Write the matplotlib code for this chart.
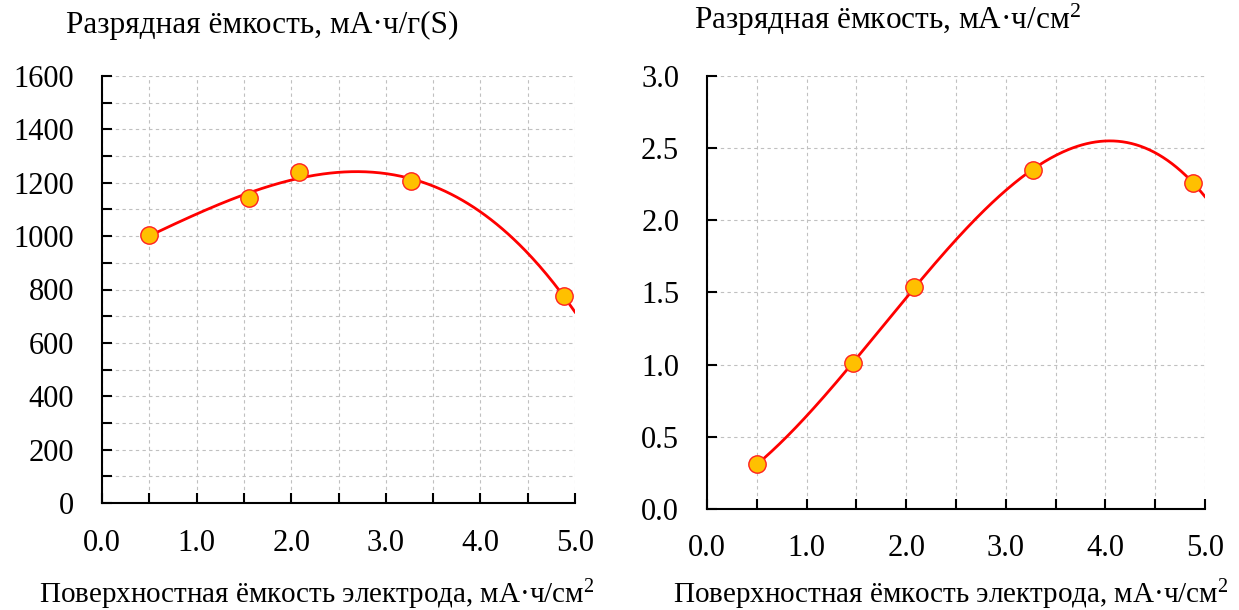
import numpy as np
import matplotlib
matplotlib.use("Agg")
import matplotlib.pyplot as plt
from matplotlib.ticker import MultipleLocator, FormatStrFormatter

plt.rcParams['font.family'] = ['Liberation Serif', 'DejaVu Serif']
plt.rcParams['mathtext.fontset'] = 'custom'
plt.rcParams['mathtext.rm'] = 'Liberation Serif'
plt.rcParams['mathtext.it'] = 'Liberation Serif:italic'
plt.rcParams['mathtext.bf'] = 'Liberation Serif:bold'

# Data
x_left = [0.5, 1.55, 2.08, 3.27, 4.88]
y_left = [1004, 1142, 1239, 1208, 776]
x_right = [0.5, 1.47, 2.08, 3.27, 4.88]
y_right = [0.31, 1.01, 1.54, 2.35, 2.26]

title_left = "Разрядная ёмкость, мА·ч/г(S)"
title_right = "Разрядная ёмкость, мА·ч/см$^\\mathrm{2}$"
xlabel = "Поверхностная ёмкость электрода, мА·ч/см$^\\mathrm{2}$"

fig = plt.figure(figsize=(12.39, 6.10), dpi=100)
W, H = 1239, 610
axL = fig.add_axes([102 / W, 1 - 503 / H, (575 - 102) / W, (503 - 76) / H])
axR = fig.add_axes([707 / W, 1 - 509 / H, (1205 - 707) / W, (509 - 76) / H])

def style(ax, ymax, ymajor, yminor, yfmt, xpad):
    ax.set_xlim(0, 5)
    ax.set_ylim(0, ymax)
    ax.xaxis.set_major_locator(MultipleLocator(1.0))
    ax.xaxis.set_minor_locator(MultipleLocator(0.5))
    ax.yaxis.set_major_locator(MultipleLocator(ymajor))
    ax.yaxis.set_minor_locator(MultipleLocator(yminor))
    ax.xaxis.set_major_formatter(FormatStrFormatter('%.1f'))
    ax.yaxis.set_major_formatter(FormatStrFormatter(yfmt))
    for s in ['top', 'right']:
        ax.spines[s].set_visible(False)
    for s in ['left', 'bottom']:
        ax.spines[s].set_linewidth(1.5)
    ax.tick_params(which='both', direction='in', length=7, width=1.5, labelsize=22)
    ax.tick_params(axis='y', which='both', pad=20)
    ax.tick_params(axis='x', which='both', pad=xpad)
    ax.grid(which='both', color='#c0c0c0', linestyle=(0, (3, 3)), linewidth=0.8)
    ax.set_axisbelow(True)

style(axL, 1600, 200, 100, '%d', 19)
style(axR, 3.0, 0.5, 0.5, '%.1f', 18)

for ax, xs, ys in [(axL, x_left, y_left), (axR, x_right, y_right)]:
    c = np.polyfit(xs, ys, 3)
    xx = np.linspace(min(xs), 5.0, 300)
    ax.plot(xx, np.polyval(c, xx), color='#ff0000', lw=2.0, zorder=3)
    ax.plot(xs, ys, 'o', ms=12.5, mfc='#ffc000', mec='#ff2020', mew=1, zorder=4, clip_on=False)

fig.text(66 / W, 1 - 33 / H, title_left, fontsize=22.5, va='baseline', ha='left')
fig.text(694 / W, 1 - 29 / H, title_right, fontsize=22.5, va='baseline', ha='left')
fig.text(317 / W, 1 - 603 / H, xlabel, fontsize=21, va='baseline', ha='center')
fig.text(951 / W, 1 - 603 / H, xlabel, fontsize=21, va='baseline', ha='center')

fig.savefig("out.png", dpi=100)
